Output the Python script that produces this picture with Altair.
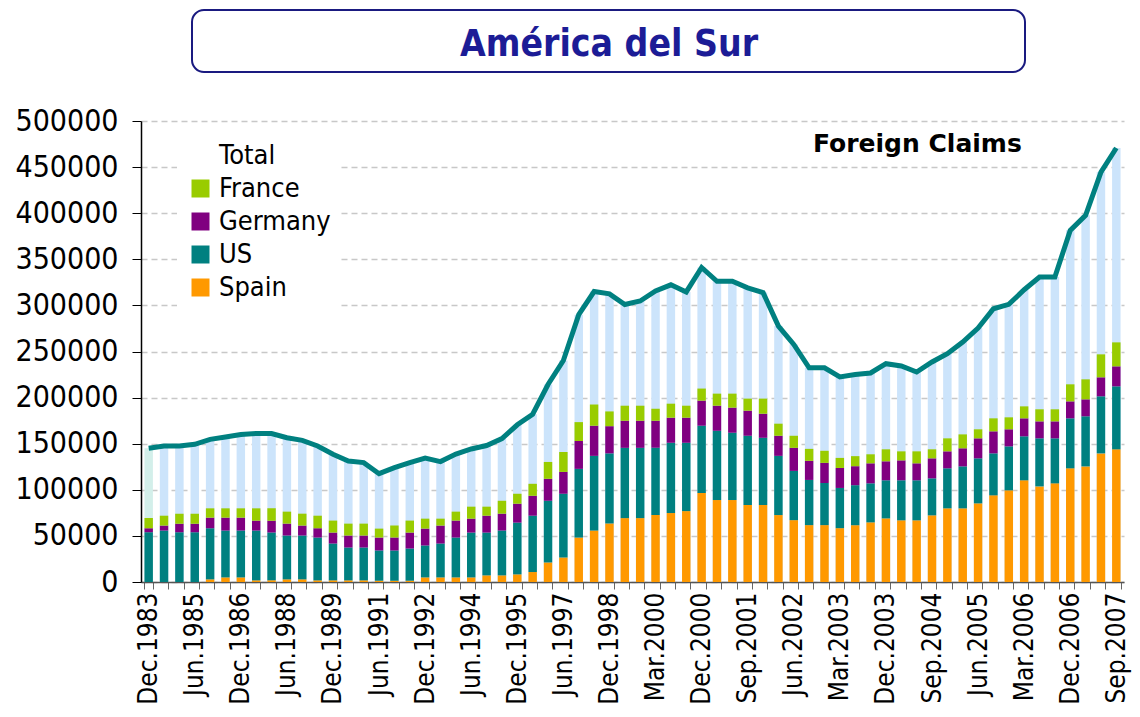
import altair as alt
import pandas as pd

periods = (
    ["Dec.1983"]
    + [f"{m}.{y}" for y in range(1984, 2000) for m in ("Jun", "Dec")]
    + [f"{m}.{y}" for y in range(2000, 2007) for m in ("Mar", "Jun", "Sep", "Dec")]
    + ["Mar.2007", "Jun.2007", "Sep.2007"]
)

tick_labels = ["Dec.1983", "Jun.1985", "Dec.1986", "Jun.1988", "Dec.1989", "Jun.1991",
               "Dec.1992", "Jun.1994", "Dec.1995", "Jun.1997", "Dec.1998", "Mar.2000",
               "Dec.2000", "Sep.2001", "Jun.2002", "Mar.2003", "Dec.2003", "Sep.2004",
               "Jun.2005", "Mar.2006", "Dec.2006", "Sep.2007"]

spain = [0, 0, 0, 0, 2900, 5000, 5000, 1800, 1800, 2900, 2900, 1800, 1800, 1800, 1800, 1400,
         1400, 1400, 5000, 5000, 5000, 5000, 7200, 7200, 8300, 10800, 21200, 26600, 48200, 55800,
         63500, 69300, 69300, 72600, 74800, 76900, 96500, 88900, 88900, 83500, 83500, 72600,
         67100, 61700, 61700, 58400, 61600, 64700, 69000, 66900, 66900, 72300, 79900, 79900,
         85300, 94000, 99400, 110300, 103700, 107000, 123300, 125400, 139500, 143900]
us = [54000, 55800, 54000, 54000, 55400, 50800, 50800, 54000, 51800, 47500, 47500, 46400,
      39900, 35600, 35600, 32800, 32800, 34900, 34600, 36700, 43200, 48600, 46400, 48600,
      56100, 61100, 66900, 69100, 74500, 81000, 76000, 76200, 76200, 72900, 76200, 74100,
      73000, 75100, 73000, 75100, 72900, 64200, 53400, 49000, 45700, 43600, 43400, 42300,
      41300, 43400, 43400, 40100, 43400, 45500, 48800, 45500, 47700, 47700, 52100, 48800,
      54200, 54300, 61900, 68300]
germany = [4300, 5400, 9300, 9300, 11500, 14000, 14000, 10700, 12900, 12900, 10800, 10100,
           11900, 13000, 13000, 14000, 14000, 17300, 18300, 19500, 18400, 15100, 18300, 18300,
           20500, 21600, 23800, 23700, 30200, 32700, 29500, 29400, 29400, 29400, 27200, 27200,
           27200, 27200, 27200, 27200, 26100, 21800, 25000, 20700, 21800, 21700, 20600, 21700,
           20600, 21600, 18400, 21700, 18400, 19600, 21700, 23900, 18500, 19500, 18400, 18400,
           18400, 18400, 20600, 21700]
france = [11100, 10700, 10800, 10800, 10100, 10100, 10100, 13400, 13400, 13000, 12900, 13600,
          13000, 12900, 12900, 9700, 13000, 13000, 10800, 7500, 9700, 13000, 9800, 14000,
          10800, 13000, 18300, 21600, 20500, 23000, 16000, 16300, 16300, 13100, 15200, 13000,
          13100, 13100, 15200, 13100, 16400, 13100, 13100, 13000, 13100, 10900, 10900, 9800,
          13000, 9800, 13000, 9800, 14100, 15100, 9800, 14100, 13000, 13000, 13100, 13100,
          18500, 21700, 24900, 26000]
total = [145000, 147500, 147500, 149300, 154700, 157200, 160000, 161100, 161100, 156500,
         153600, 147500, 138500, 131300, 129500, 117500, 124100, 129500, 134500, 130600,
         138800, 144300, 148000, 155500, 170500, 182000, 214200, 240200, 289900, 315000,
         312500, 301000, 304800, 315700, 322300, 314600, 341100, 326200, 326200, 319000,
         313900, 277600, 257700, 232300, 232300, 222500, 225100, 226700, 236800, 234300,
         227700, 238600, 247600, 260300, 275500, 296400, 301100, 317000, 330800, 330800,
         381400, 397700, 444600, 470700]

series_names = ["Spain", "US", "Germany", "France"]
series_vals = [spain, us, germany, france]
legend_names = ["Total", "France", "Germany", "US", "Spain"]
legend_colors = ["#ffffff", "#99cc00", "#800080", "#008080", "#ff9900"]

tot_df = pd.DataFrame({"period": periods, "total": total, "idx": range(len(periods))})
rows = []
for k, (name, vals) in enumerate(zip(series_names, series_vals)):
    for p, v in zip(periods, vals):
        rows.append({"period": p, "series": name, "value": v, "ord": k})
stack_df = pd.DataFrame(rows)

FONT = "DejaVu Sans Condensed, Tahoma, DejaVu Sans, sans-serif"
label_arr = "[" + ",".join(f"'{t}'" for t in tick_labels) + "]"

x_enc = alt.X("period:N", sort=periods, title=None,
              scale=alt.Scale(paddingInner=0.45, paddingOuter=0.225),
              axis=alt.Axis(labelAngle=270, labelFontSize=26, labelFont=FONT,
                            labelColor="black", tickSize=7, tickColor="#666666",
                            tickBand="extent", labelPadding=3, domainColor="#555555",
                            domainWidth=1.5, labelOverlap=False,
                            labelExpr=f"indexof({label_arr}, datum.value) >= 0 ? datum.value : ''"))
y_scale = alt.Scale(domain=[0, 500000], nice=False)
y_axis = alt.Axis(values=list(range(0, 500001, 50000)), format="d", labelFontSize=30,
                  labelFont=FONT, labelColor="black", tickSize=9, tickColor="black",
                  labelPadding=14, domainColor="black", domainWidth=1.5,
                  grid=True, gridColor="#c8c8c8", gridDash=[6, 4], gridWidth=1.5)

bg = alt.Chart(tot_df).mark_bar().encode(
    x=x_enc,
    y=alt.Y("total:Q", scale=y_scale, axis=y_axis, title=None),
    color=alt.condition(alt.datum.idx == 0, alt.value("#d3efea"), alt.value("#cce4fb")),
)

bars = alt.Chart(stack_df).mark_bar().encode(
    x=alt.X("period:N", sort=periods),
    y=alt.Y("sum(value):Q", stack="zero", scale=y_scale),
    color=alt.Color("series:N",
                    scale=alt.Scale(domain=legend_names, range=legend_colors),
                    legend=alt.Legend(title=None, orient="none", legendX=36, legendY=11,
                                      symbolType="square", symbolSize=324,
                                      symbolStrokeWidth=0, labelFontSize=27,
                                      labelFont=FONT, labelColor="black", labelOffset=5,
                                      rowPadding=5, padding=10, fillColor="white",
                                      values=legend_names)),
    order=alt.Order("ord:Q", sort="ascending"),
)

line = alt.Chart(tot_df).mark_line(color="#008080", strokeWidth=5).encode(
    x=alt.X("period:N", sort=periods),
    y=alt.Y("total:Q", scale=y_scale),
)

deco = alt.Data(values=[{"t": 1}])
box = alt.Chart(deco).mark_rect(fill="white", stroke="#1a1a80", strokeWidth=2,
                                cornerRadius=12).encode(
    x=alt.value(51), x2=alt.value(884), y=alt.value(-111), y2=alt.value(-49))
title = alt.Chart(deco).mark_text(text="América del Sur", fontSize=37, fontWeight="bold",
                                  font="Liberation Sans Narrow, DejaVu Sans Condensed, Arial Narrow, sans-serif",
                                  color="#1c1c96", align="center", baseline="middle").encode(
    x=alt.value(468), y=alt.value(-76))
sub = alt.Chart(deco).mark_text(text="Foreign Claims", fontSize=25, fontWeight="bold",
                                font="DejaVu Sans, Tahoma, sans-serif", color="black",
                                align="left", baseline="middle").encode(
    x=alt.value(672), y=alt.value(23))

chart = alt.layer(bg, bars, line, box, title, sub).properties(
    width=983, height=461,
    autosize=alt.AutoSizeParams(type="none"),
    padding={"left": 133, "top": 113, "right": 8, "bottom": 127},
).configure_view(stroke=None)

chart.save("out.html", embed_options={"renderer": "svg", "actions": False})
